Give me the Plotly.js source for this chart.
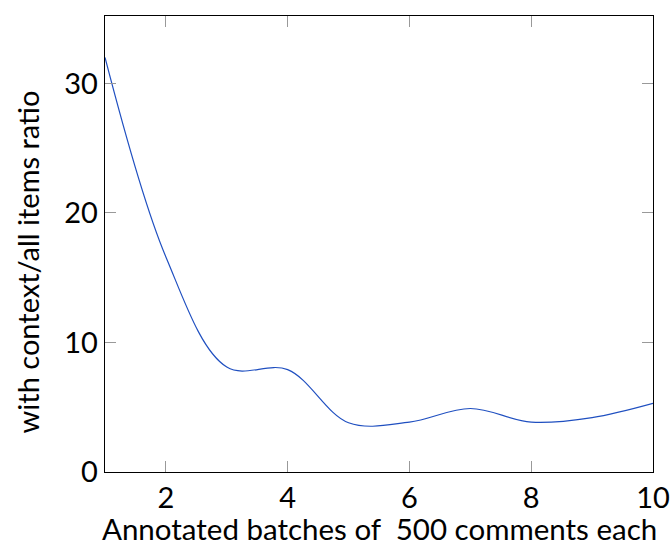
<!DOCTYPE html>
<html>
<head>
<meta charset="utf-8">
<script src="https://cdn.plot.ly/plotly-3.0.1.min.js"></script>
<style>html,body{margin:0;padding:0;background:#fff;}#chart{width:672px;height:547px;}</style>
</head>
<body>
<div id="chart"></div>
<script>
const batches = [1, 2, 3, 4, 5, 6, 7, 8, 9, 10];
const contextRatio = [32.0, 16.6, 8.1, 7.9, 3.8, 3.85, 4.9, 3.85, 4.2, 5.3];
const xTicks = [2, 4, 6, 8, 10];
const yTicks = [0, 10, 20, 30];

const font = {family: "Lato, Open Sans, sans-serif", color: "#000"};

Plotly.newPlot("chart", [{
  x: batches,
  y: contextRatio,
  type: "scatter",
  mode: "lines",
  line: {shape: "spline", smoothing: 1, color: "#1f4fc0", width: 1.2},
  hoverinfo: "skip"
}], {
  width: 672, height: 547,
  margin: {l: 105, r: 18.5, t: 16, b: 75.3},
  paper_bgcolor: "#fff", plot_bgcolor: "#fff",
  showlegend: false,
  xaxis: {
    range: [1, 10],
    tickvals: xTicks, ticktext: xTicks.map(String),
    ticks: "inside", ticklen: 11, tickcolor: "#999", tickwidth: 1,
    showline: true, linecolor: "#000", linewidth: 1.3, mirror: "ticks",
    showgrid: false, zeroline: false,
    tickfont: Object.assign({size: 29}, font)
  },
  yaxis: {
    range: [0, 35.2],
    tickvals: yTicks, ticktext: yTicks.map(String),
    ticks: "inside", ticklen: 11, tickcolor: "#999", tickwidth: 1,
    showline: true, linecolor: "#000", linewidth: 1.3, mirror: "ticks",
    showgrid: false, zeroline: false,
    tickfont: Object.assign({size: 29}, font)
  },
  annotations: [{
    text: "with context/all items ratio",
    xref: "paper", yref: "paper",
    x: -0.142, y: 0.46,
    xanchor: "center", yanchor: "middle",
    textangle: -90, showarrow: false,
    font: Object.assign({size: 29}, font)
  }, {
    text: "Annotated batches of \u00a0500 comments each",
    xref: "paper", yref: "paper",
    x: 0.5, y: -0.164,
    xanchor: "center", yanchor: "bottom",
    showarrow: false, borderpad: 0,
    font: Object.assign({size: 29.5}, font)
  }]
}, {displayModeBar: false, staticPlot: true});
</script>
</body>
</html>
